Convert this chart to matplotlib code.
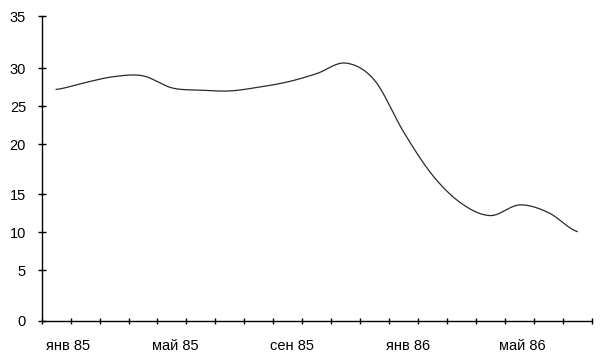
import matplotlib
matplotlib.use("Agg")
import matplotlib.pyplot as plt
import numpy as np


MONTHS = ["янв 85", "фев 85", "мар 85", "апр 85", "май 85", "июн 85",
          "июл 85", "авг 85", "сен 85", "окт 85", "ноя 85", "дек 85",
          "янв 86", "фев 86", "мар 86", "апр 86", "май 86", "июн 86",
          "июл 86"]
VALUES = [27.2, 28.1, 28.9, 29.0, 27.4, 27.1, 27.0, 27.5, 28.2, 29.3,
          30.5, 28.4, 21.6, 16.9, 13.8, 12.2, 13.6, 12.6, 10.1]
Y_TICKS = [0, 5, 10, 15, 20, 25, 30, 35]

# the scanned axis is not evenly spaced; pixel height of each y tick above 0
Y_TICK_PX = [0, 51, 88.7, 126.7, 177, 215, 252.7, 305]
LABEL_EVERY = 4
LABEL_SHIFT = [0.42, 0.1, 0.16, 0.14, 0.11]


def fwd(v):
    return np.interp(np.asarray(v, dtype=float), Y_TICKS, Y_TICK_PX)


def inv(p):
    return np.interp(np.asarray(p, dtype=float), Y_TICK_PX, Y_TICKS)


def smooth(y, steps=40):
    # Catmull-Rom through the points, like a spreadsheet "smoothed line"
    y = np.asarray(y, dtype=float)
    n = len(y)
    m = np.empty(n)
    m[1:-1] = (y[2:] - y[:-2]) / 2
    m[0] = (y[1] - y[0]) / 2
    m[-1] = (y[-1] - y[-2]) / 2
    xs, ys = [], []
    t = np.linspace(0, 1, steps, endpoint=False)
    h00 = 2 * t**3 - 3 * t**2 + 1
    h10 = t**3 - 2 * t**2 + t
    h01 = -2 * t**3 + 3 * t**2
    h11 = t**3 - t**2
    for i in range(n - 1):
        xs.append(i + t)
        ys.append(h00 * y[i] + h10 * m[i] + h01 * y[i + 1] + h11 * m[i + 1])
    xs.append([n - 1])
    ys.append([y[-1]])
    return np.concatenate(xs), np.concatenate(ys)


plt.rcParams["font.family"] = ["Liberation Sans", "DejaVu Sans"]
plt.rcParams["font.size"] = 10.5

fig = plt.figure(figsize=(6.04, 3.52), dpi=100)
ax = fig.add_axes([41.7 / 604, 31 / 352, 550 / 604, 305 / 352])

# smooth in screen space so the bends of the uneven axis do not show
sx, sp = smooth(fwd(VALUES))
ax.plot(sx, inv(sp), color="#2a2a2a", linewidth=0.9)

ax.set_yscale("function", functions=(fwd, inv))
ax.set_ylim(0, 35)
ax.set_yticks(Y_TICKS)
ax.set_xlim(-0.5, len(MONTHS) - 0.5)

ax.set_xticks(np.arange(len(MONTHS) + 1) - 0.5)
ax.set_xticklabels([])
idx = np.arange(0, len(MONTHS), LABEL_EVERY)
ax.set_xticks(idx + np.array(LABEL_SHIFT), [MONTHS[i] for i in idx], minor=True)

for side in ("top", "right"):
    ax.spines[side].set_visible(False)
for side in ("left", "bottom"):
    ax.spines[side].set_linewidth(1.0)
    ax.spines[side].set_color("black")

ax.tick_params(axis="x", which="major", direction="inout", length=4.5, width=1.0)
ax.tick_params(axis="x", which="minor", length=0, pad=13)
ax.tick_params(axis="y", direction="inout", length=5.5, width=1.0, pad=8.5)

fig.savefig("out.png", dpi=100, facecolor="white")
